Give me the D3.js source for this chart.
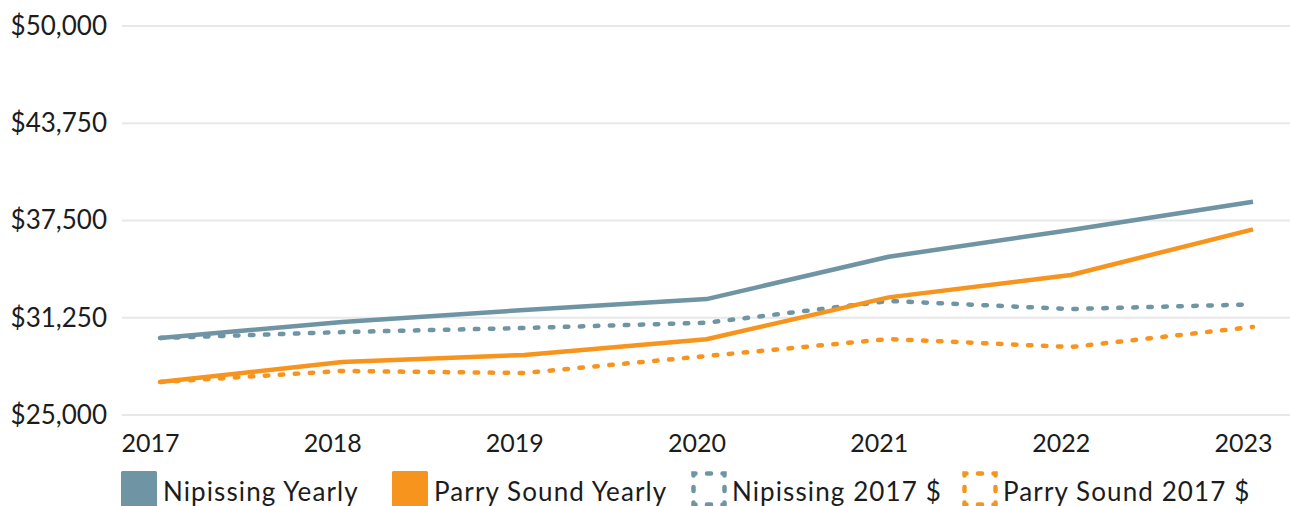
<!DOCTYPE html>
<html>
<head>
<meta charset="utf-8">
<script src="https://cdn.jsdelivr.net/npm/d3@7"></script>
<style>
  body { margin: 0; background: #fff; }
  svg { display: block; }
  text { font-family: Lato, "Open Sans", sans-serif; fill: #1c1c1c; }
</style>
</head>
<body>
<svg id="chart" width="1290" height="506"></svg>
<script>
// Median income, yearly dollars vs. constant 2017 dollars
const years = [2017, 2018, 2019, 2020, 2021, 2022, 2023];
const nipissingYearly  = [29950, 30980, 31750, 32450, 35170, 36890, 38710];
const parrySoundYearly = [27120, 28410, 28860, 29870, 32560, 34000, 36930];
const nipissing2017    = [29950, 30330, 30590, 30930, 32330, 31810, 32110];
const parrySound2017   = [27120, 27830, 27700, 28790, 29880, 29370, 30660];
const yTicks = [25000, 31250, 37500, 43750, 50000];
const seriesNames = ["Nipissing Yearly", "Parry Sound Yearly", "Nipissing 2017 $", "Parry Sound 2017 $"];

const BLUE = "#6f94a3", ORANGE = "#f7941d";

const series = [
  { name: seriesNames[0], values: nipissingYearly,  color: BLUE,   dashed: false },
  { name: seriesNames[1], values: parrySoundYearly, color: ORANGE, dashed: false },
  { name: seriesNames[2], values: nipissing2017,    color: BLUE,   dashed: true },
  { name: seriesNames[3], values: parrySound2017,   color: ORANGE, dashed: true }
];

const svg = d3.select("#chart");

const x = d3.scalePoint().domain(years).range([160, 1253]);
const y = d3.scaleLinear().domain([25000, 50000]).range([415, 26]);

// horizontal gridlines
svg.append("g")
  .selectAll("line")
  .data(yTicks)
  .join("line")
  .attr("x1", 122).attr("x2", 1290)
  .attr("y1", d => y(d)).attr("y2", d => y(d))
  .attr("stroke", "#e8e8e8").attr("stroke-width", 2);

// y axis labels
const yAxis = svg.append("g")
  .attr("transform", "translate(107,0)")
  .call(d3.axisLeft(y).tickValues(yTicks).tickSize(0).tickPadding(0)
    .tickFormat(d => "$" + d3.format(",")(d)));
yAxis.select(".domain").remove();
yAxis.attr("font-family", null);
yAxis.selectAll("text").attr("font-size", 26).attr("fill", "#1c1c1c");

// x axis labels
const xAxis = svg.append("g")
  .attr("transform", "translate(0,415)")
  .call(d3.axisBottom(x).tickSize(0).tickPadding(19).tickFormat(d3.format("d")));
xAxis.select(".domain").remove();
xAxis.attr("font-family", null);
xAxis.selectAll("text").attr("font-size", 25).attr("fill", "#1c1c1c").attr("dx", -10);

// series lines
const line = d3.line()
  .x((d, i) => x(years[i]))
  .y(d => y(d));

svg.append("g")
  .selectAll("path")
  .data(series.slice().reverse())
  .join("path")
  .attr("d", d => line(d.values))
  .attr("fill", "none")
  .attr("stroke", d => d.color)
  .attr("stroke-width", 4.5)
  .attr("stroke-linejoin", "round")
  .attr("stroke-linecap", d => d.dashed ? "round" : "butt")
  .attr("stroke-dasharray", d => d.dashed ? "3.5 11.5" : null);

// legend
const legendX = [121, 392, 691, 962];
const legend = svg.append("g")
  .selectAll("g")
  .data(series)
  .join("g")
  .attr("transform", (d, i) => `translate(${legendX[i]},471)`);

legend.each(function (d) {
  const g = d3.select(this);
  if (d.dashed) {
    g.append("rect")
      .attr("x", 2.5).attr("y", 2.5).attr("width", 31).attr("height", 31)
      .attr("fill", "none").attr("stroke", d.color).attr("stroke-width", 4.5)
      .attr("stroke-linecap", "round")
      .attr("stroke-dasharray", "4 11.5").attr("stroke-dashoffset", 2);
  } else {
    g.append("rect")
      .attr("width", 36).attr("height", 36).attr("rx", 1.5)
      .attr("fill", d.color);
  }
  g.append("text")
    .attr("x", d.dashed ? 41 : 42)
    .attr("y", 30)
    .attr("font-size", 26)
    .attr("letter-spacing", 1.1)
    .text(d.name);
});
</script>
</body>
</html>
